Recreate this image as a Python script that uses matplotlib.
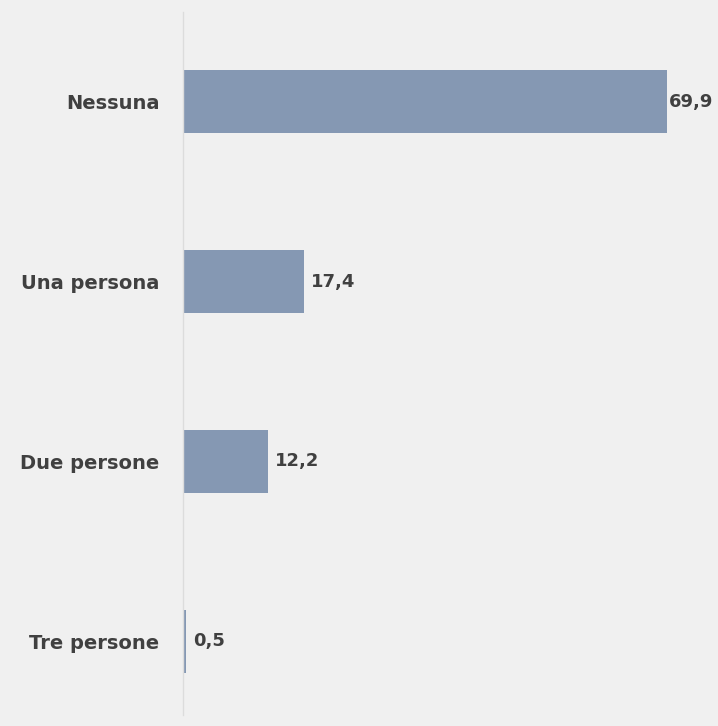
import matplotlib.pyplot as plt

categories = ['Nessuna', 'Una persona', 'Due persone', 'Tre persone']
values = [69.9, 17.4, 12.2, 0.5]
value_labels = ['69,9', '17,4', '12,2', '0,5']

bg = '#f0f0f0'
bar_color = '#8598b3'
text_color = '#404040'

plt.rcParams['font.family'] = ['DejaVu Sans']

fig = plt.figure(figsize=(7.18, 7.26), dpi=100, facecolor=bg)
ax = fig.add_axes([183 / 718, 11 / 726, 1 - 183 / 718, 703 / 726])
ax.set_facecolor(bg)

pos = list(range(len(categories)))
ax.barh(pos, values, height=0.35, color=bar_color)
ax.set_ylim(3.41, -0.5)
ax.set_xlim(0, 77.2)

for p, v, lab in zip(pos, values, value_labels):
    # the longest bar leaves little room, so its label sits tight against it
    off = 1 if v == max(values) else 5
    ax.annotate(lab, (v, p), xytext=(off, 0), textcoords='offset points',
                va='center', ha='left', fontsize=13, fontweight='bold', color=text_color)

ax.set_yticks(pos)
ax.set_yticklabels(categories, fontsize=14, fontweight='bold', color=text_color)
ax.tick_params(axis='y', length=0, pad=17)
ax.set_xticks([])
for s in ['top', 'right', 'bottom']:
    ax.spines[s].set_visible(False)
ax.spines['left'].set_color('#dcdcdc')
ax.spines['left'].set_linewidth(1)

fig.savefig('out.png', dpi=100, facecolor=bg)
